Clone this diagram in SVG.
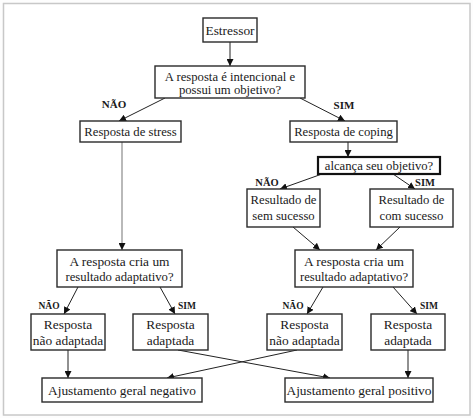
<svg xmlns="http://www.w3.org/2000/svg" width="473" height="418" viewBox="0 0 473 418">
<style>
.box{fill:#fff;stroke:#2a2a2a;stroke-width:1.4}
.thick{stroke-width:2.2;stroke:#111}
text{font-family:'Liberation Serif','Times New Roman',serif;fill:#1a1a1a;text-anchor:middle}
.t{font-size:12.7px}
.big{font-size:13.4px}
.lbl{font-size:11px;font-weight:bold}
.lbl2{font-size:10.5px;font-weight:bold}
.lbl3{font-size:9.5px;font-weight:bold}
.c{fill:none;stroke:#222;stroke-width:1;marker-end:url(#ah)}
.cg{fill:none;stroke:#8a8a8a;stroke-width:1.2;marker-end:url(#ah)}
</style>
<defs>
<marker id="ah" viewBox="0 0 10 10" refX="10" refY="5" markerWidth="7" markerHeight="7" markerUnits="userSpaceOnUse" orient="auto">
<path d="M0,0 L10,5 L0,10 z" fill="#111"/>
</marker>
</defs>
<rect x="0" y="0" width="473" height="418" fill="#fdfdfd"/>
<rect x="3.5" y="3.5" width="466.5" height="411.5" fill="#fff" stroke="#c8c8c8" stroke-width="1.5"/>

<g id="connectors">
<line class="c" x1="230" y1="42" x2="230" y2="66"/>
<line class="c" x1="165" y1="98" x2="119" y2="121"/>
<line class="c" x1="300" y1="98" x2="345" y2="121"/>
<line class="cg" x1="122" y1="142" x2="122" y2="250"/>
<line class="c" x1="348" y1="142" x2="348" y2="157"/>
<line class="c" x1="322" y1="174" x2="280" y2="189"/>
<line class="c" x1="393" y1="174" x2="415" y2="189"/>
<line class="c" x1="293" y1="227" x2="320" y2="250"/>
<line class="c" x1="400" y1="227" x2="376" y2="250"/>
<line class="c" x1="78" y1="287" x2="64" y2="314"/>
<line class="c" x1="160" y1="287" x2="175" y2="314"/>
<line class="c" x1="323" y1="287" x2="307" y2="314"/>
<line class="c" x1="393" y1="287" x2="417" y2="314"/>
<line class="c" x1="68" y1="350" x2="68" y2="378"/>
<line class="c" x1="408" y1="350" x2="408" y2="378"/>
<line class="c" x1="178" y1="350" x2="330" y2="378"/>
<line class="c" x1="297" y1="350" x2="167" y2="378"/>
<text class="lbl" x="114" y="108">NÃO</text>
<text class="lbl" x="344" y="109">SIM</text>
<text class="lbl2" x="267" y="186">NÃO</text>
<text class="lbl2" x="425" y="186">SIM</text>
<text class="lbl3" x="49" y="309">NÃO</text>
<text class="lbl3" x="187" y="309">SIM</text>
<text class="lbl3" x="293" y="309">NÃO</text>
<text class="lbl3" x="429" y="309">SIM</text>
</g>

<g id="estressor">
<rect class="box" x="203" y="18" width="54" height="24"/>
<text class="big" x="230" y="34.5">Estressor</text>
</g>
<g id="q1">
<rect class="box" x="155" y="66" width="150" height="32"/>
<text class="t" x="230" y="80.5">A resposta é intencional e</text>
<text class="t" x="230" y="94">possui um objetivo?</text>
</g>
<g id="stress">
<rect class="box" x="80" y="121" width="101" height="21"/>
<text class="t" x="130.5" y="135.5">Resposta de stress</text>
</g>
<g id="coping">
<rect class="box" x="290" y="121" width="107" height="21"/>
<text class="t" x="343.5" y="135.5">Resposta de coping</text>
</g>
<g id="alcanca">
<rect class="box thick" x="318" y="157" width="122" height="17"/>
<text class="t" x="379" y="170">alcança seu objetivo?</text>
</g>
<g id="sem-sucesso">
<rect class="box" x="247" y="189" width="73" height="38"/>
<text class="t" x="283.5" y="204">Resultado de</text>
<text class="t" x="283.5" y="219.5">sem sucesso</text>
</g>
<g id="com-sucesso">
<rect class="box" x="370" y="189" width="83" height="38"/>
<text class="t" x="411.5" y="204">Resultado de</text>
<text class="t" x="411.5" y="219.5">com sucesso</text>
</g>
<g id="q2-left">
<rect class="box" x="57" y="250" width="125" height="37"/>
<text class="big" x="119.5" y="266">A resposta cria um</text>
<text class="t" x="119.5" y="281">resultado adaptativo?</text>
</g>
<g id="q2-right">
<rect class="box" x="295" y="250" width="118" height="37"/>
<text class="big" x="354" y="266">A resposta cria um</text>
<text class="t" x="354" y="281">resultado adaptativo?</text>
</g>
<g id="nao-adaptada-left">
<rect class="box" x="31" y="314" width="74" height="36"/>
<text class="big" x="68" y="329">Resposta</text>
<text class="big" x="68" y="345">não adaptada</text>
</g>
<g id="adaptada-left">
<rect class="box" x="133" y="314" width="75" height="36"/>
<text class="big" x="170.5" y="329">Resposta</text>
<text class="big" x="170.5" y="345">adaptada</text>
</g>
<g id="nao-adaptada-right">
<rect class="box" x="267" y="314" width="75" height="36"/>
<text class="big" x="304.5" y="329">Resposta</text>
<text class="big" x="304.5" y="345">não adaptada</text>
</g>
<g id="adaptada-right">
<rect class="box" x="371" y="314" width="74" height="36"/>
<text class="big" x="408" y="329">Resposta</text>
<text class="big" x="408" y="345">adaptada</text>
</g>
<g id="negativo">
<rect class="box" x="42" y="378" width="160" height="24"/>
<text class="big" x="122" y="394.5">Ajustamento geral negativo</text>
</g>
<g id="positivo">
<rect class="box" x="285" y="378" width="148" height="24"/>
<text class="big" x="359" y="394.5">Ajustamento geral positivo</text>
</g>
</svg>
